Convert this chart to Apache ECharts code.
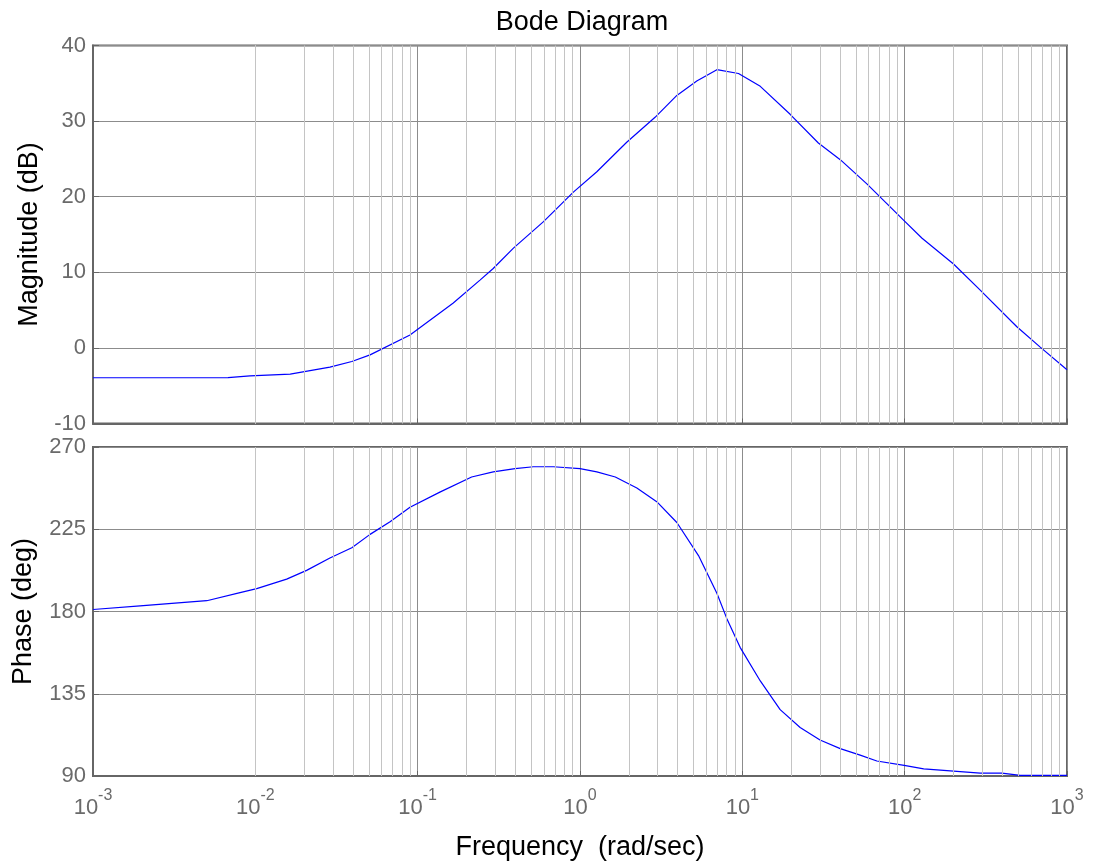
<!DOCTYPE html>
<html>
<head>
<meta charset="utf-8">
<script src="https://cdn.jsdelivr.net/npm/echarts@6/dist/echarts.min.js"></script>
<style>body{margin:0;background:#fff}</style>
</head>
<body>
<div id="chart" style="width:1093px;height:863px;"></div>
<script>
// magnitude samples (rad/sec, dB)
var magFreq = [0.001, 0.00679, 0.00927, 0.0164, 0.0288, 0.0393, 0.0509, 0.0897, 0.0987, 0.165,
  0.242, 0.292, 0.389, 0.596, 0.910, 1.27, 1.94, 2.90, 3.95, 5.24, 6.97, 9.47, 12.9, 19.7,
  29.4, 40.1, 58.5, 98.4, 128, 200, 292, 491, 684, 1000];
var magDb = [-3.95, -3.92, -3.69, -3.47, -2.55, -1.8, -0.92, 1.7, 2.37, 5.9,
  8.97, 10.5, 13.2, 16.7, 20.6, 23.3, 27.2, 30.5, 33.4, 35.3, 36.8, 36.3, 34.6, 30.9,
  27.1, 24.9, 21.7, 16.9, 14.5, 11.1, 7.65, 2.8, 0.1, -2.9];

// phase samples (rad/sec, deg)
var phaseFreq = [0.001, 0.00195, 0.00502, 0.00805, 0.0102, 0.0156, 0.0207, 0.0288, 0.0393, 0.0509,
  0.0676, 0.0897, 0.137, 0.215, 0.292, 0.398, 0.516, 0.685, 1.0, 1.27, 1.65, 2.24, 2.97, 3.95,
  5.37, 6.97, 8.03, 9.69, 12.9, 17.1, 22.7, 30.1, 40.1, 53.2, 67.4, 99.3, 131, 292, 397, 515, 1000];
var phaseDeg = [181.1, 183.1, 185.9, 190.3, 192.5, 197.7, 202.5, 209.3, 214.9, 222.2,
  229.1, 237.0, 245.3, 253.6, 256.4, 258.2, 259.2, 259.2, 258.2, 256.4, 253.6, 247.6, 240.1, 228.7,
  210.6, 190.0, 176.1, 160.4, 142.0, 126.3, 116.5, 109.7, 105.0, 101.4, 98.2, 95.8, 93.9, 91.6, 91.6, 90.3, 90.3];

var magTicks = [-10, 0, 10, 20, 30, 40];
var phaseTicks = [90, 135, 180, 225, 270];

// minor log grid positions 2..9 x 10^k
var minorGrid = [];
for (var k = -3; k < 3; k++) {
  for (var m = 2; m <= 9; m++) minorGrid.push({ xAxis: m * Math.pow(10, k) });
}

function pairs(xs, ys) {
  return xs.map(function (x, i) { return [x, ys[i]]; });
}

var chart = echarts.init(document.getElementById('chart'));
var font = 'Liberation Sans, Arial, sans-serif';
var labelGrey = '#6a6a6a';
var frame = '#666';

function xAxisFor(gridIndex, showLabels) {
  return {
    type: 'log', logBase: 10, gridIndex: gridIndex,
    min: 0.001, max: 1000, interval: 1,
    axisLine: { show: true, onZero: false, lineStyle: { color: frame, width: 2 } },
    axisTick: { show: true, inside: true, length: 5, lineStyle: { color: frame } },
    splitLine: { show: true, lineStyle: { color: '#8c8c8c', width: 1 } },
    axisLabel: {
      show: showLabels, margin: 12, fontFamily: font, color: labelGrey,
      formatter: function (v) {
        var e = Math.round(Math.log10(v));
        return '{b|10}{e|' + e + '}';
      },
      rich: {
        b: { fontSize: 22, fontFamily: font, color: labelGrey },
        e: { fontSize: 16, fontFamily: font, color: labelGrey, padding: [0, 0, 24, 0] }
      }
    },
    name: showLabels ? 'Frequency  (rad/sec)' : '',
    nameLocation: 'middle', nameGap: 58,
    nameTextStyle: { fontSize: 27, fontFamily: font, color: '#000' }
  };
}

function yAxisFor(gridIndex, ticks, interval, name, gap) {
  return {
    type: 'value', gridIndex: gridIndex,
    min: ticks[0], max: ticks[ticks.length - 1], interval: interval,
    axisLine: { show: true, lineStyle: { color: frame, width: 2 } },
    axisTick: { show: true, inside: true, length: 6, lineStyle: { color: frame } },
    splitLine: { show: true, lineStyle: { color: '#8c8c8c', width: 1 } },
    axisLabel: { fontSize: 22, fontFamily: font, color: labelGrey, margin: 7 },
    name: name, nameLocation: 'middle', nameGap: gap,
    nameTextStyle: { fontSize: 27, fontFamily: font, color: '#000' }
  };
}

var minorLines = {
  silent: true, symbol: 'none', animation: false,
  label: { show: false },
  lineStyle: { color: '#c4c4c4', type: 'solid', width: 1 },
  data: minorGrid
};

chart.setOption({
  animation: false,
  title: {
    text: 'Bode Diagram', left: 577, top: 4, textAlign: 'center',
    textStyle: { fontSize: 27, fontWeight: 'normal', fontFamily: font, color: '#000' }
  },
  grid: [
    { left: 93, right: 26, top: 45.5, height: 378, show: true, borderColor: frame, borderWidth: 2 },
    { left: 93, right: 26, top: 447, height: 329, show: true, borderColor: frame, borderWidth: 2 }
  ],
  xAxis: [xAxisFor(0, false), xAxisFor(1, true)],
  yAxis: [
    yAxisFor(0, magTicks, 10, 'Magnitude (dB)', 48),
    yAxisFor(1, phaseTicks, 45, 'Phase (deg)', 56)
  ],
  series: [
    {
      type: 'line', xAxisIndex: 0, yAxisIndex: 0, showSymbol: false,
      data: pairs(magFreq, magDb),
      lineStyle: { color: '#0000ff', width: 1.2 },
      markLine: minorLines
    },
    {
      type: 'line', xAxisIndex: 1, yAxisIndex: 1, showSymbol: false,
      data: pairs(phaseFreq, phaseDeg),
      lineStyle: { color: '#0000ff', width: 1.2 },
      markLine: minorLines
    }
  ]
});
</script>
</body>
</html>
